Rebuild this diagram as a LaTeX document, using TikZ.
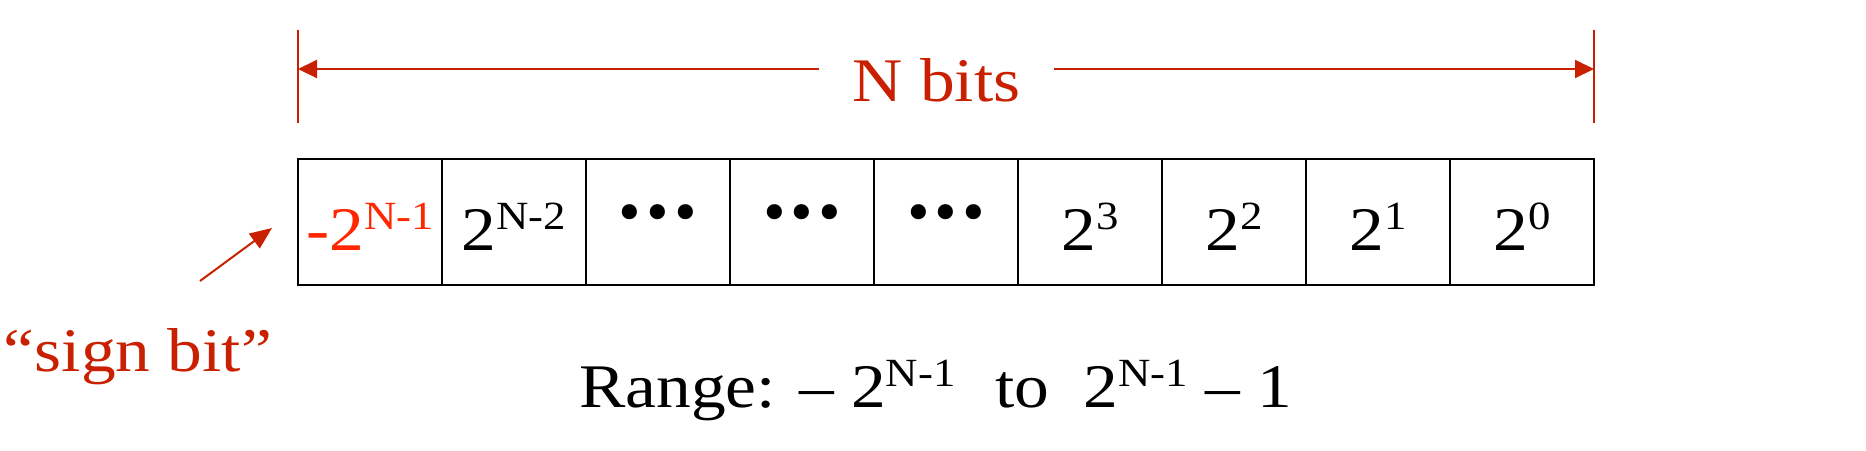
\documentclass[tikz,border=0pt]{standalone}
\usepackage{fontspec}
\setmainfont[FakeStretch=1.12]{Liberation Serif}
\newfontfamily\dotfont{DejaVu Serif}
\usetikzlibrary{arrows.meta}
\definecolor{darkred}{RGB}{200,32,0}
\definecolor{brightred}{RGB}{255,38,0}
\newcommand{\upx}[1]{{\fontsize{40}{40}\selectfont\raisebox{21pt}{#1}}}
\newcommand{\tripledot}{\raisebox{19pt}{\dotfont\fontsize{52}{52}\selectfont •\hspace{-3pt}•\hspace{-3pt}•}}
\begin{document}
\begin{tikzpicture}[x=1pt,y=-1pt,
  cell/.style={draw=black,line width=1.9pt,minimum width=144pt,minimum height=126pt,
    inner sep=0pt,text height=91pt,text depth=35pt,font=\fontsize{62}{62}\selectfont},
  redtext/.style={text=darkred,font=\fontsize{62}{62}\selectfont,inner sep=0pt},
  redline/.style={draw=darkred,line width=1.6pt},
  redarrow/.style={draw=darkred,line width=2pt,-{Triangle[length=19pt,width=18pt,fill=darkred]}}]
\useasboundingbox (0,0) rectangle (1866,450);
% cells
\node[cell,text=brightred] (c1) at (370,222) {-2\upx{N-1}};
\node[cell] (c2) at (514,222) {2\upx{N-2}};
\node[cell] (c3) at (658,222) {\tripledot};
\node[cell] (c4) at (802,222) {\tripledot};
\node[cell] (c5) at (946,222) {\tripledot};
\node[cell] (c6) at (1090,222) {2\upx{3}};
\node[cell] (c7) at (1234,222) {2\upx{2}};
\node[cell] (c8) at (1378,222) {2\upx{1}};
\node[cell] (c9) at (1522,222) {2\upx{0}};
% N bits dimension
\coordinate (ltop) at (298,30);
\coordinate (lbot) at (298,123);
\coordinate (rtop) at (1594,30);
\coordinate (rbot) at (1594,123);
\coordinate (al) at (298,69);
\coordinate (ar) at (1594,69);
\draw[redline] (ltop) -- (lbot);
\draw[redline] (rtop) -- (rbot);
\node[redtext,anchor=base,minimum width=235pt] (nbits) at (936.5,101) {N bits};
\draw[redarrow] (nbits.west |- al) -- (al);
\draw[redarrow] (nbits.east |- ar) -- (ar);
% sign bit
\coordinate (sbtail) at (200,281);
\coordinate (sbtip) at (272,228);
\draw[draw=darkred,line width=2pt,-{Triangle[length=22pt,width=18pt,fill=darkred]}] (sbtail) -- (sbtip);
\node[redtext,anchor=base] (sign) at (138,371) {“sign bit”};
% range
\node[font=\fontsize{62}{62}\selectfont,inner sep=0pt,anchor=base west] (range) at (579,407)
  {Range: – 2\upx{N-1}\hspace{40pt}to\hspace{34pt}2\upx{N-1} – 1};
\end{tikzpicture}
\end{document}
